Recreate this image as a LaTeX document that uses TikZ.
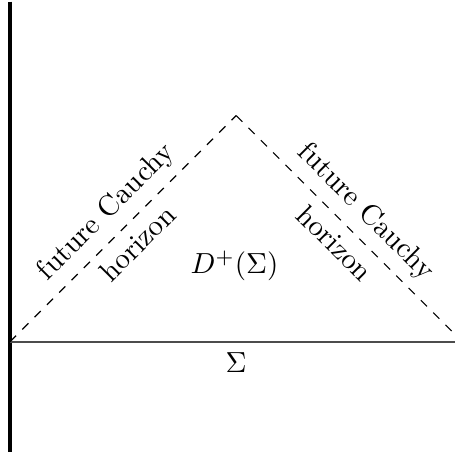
\documentclass[tikz,border=0pt]{standalone}
\usepackage{amsmath,amssymb}
\usetikzlibrary{positioning}
\tikzset{
  wallline/.style={line width=1.2pt},
  sliceline/.style={line width=0.5pt,color=black!70},
  horizonline/.style={dashed,line width=0.4pt},
  slopelabel/.style={sloped,pos=0.5,inner sep=3.3pt}
}
\begin{document}
\begin{tikzpicture}
  \clip (-0.121,-1.33) rectangle (5.39,4.14);
  \coordinate (origin) at (0,0);
  \coordinate (apex) at (2.74,2.74);
  \coordinate (farend) at (5.48,0);
  \coordinate (walltop) at (0,4.12);
  \coordinate (wallbottom) at (0,-1.33);
  \draw[wallline] (walltop) -- (wallbottom);
  \draw[sliceline] (origin) -- (farend) node[midway,below,text=black] (sigma) {$\Sigma$};
  \draw[horizonline] (origin) -- (apex)
    node[slopelabel,above] (leftouter) {future Cauchy}
    node[slopelabel,below] (leftinner) {horizon};
  \draw[horizonline] (apex) -- (farend)
    node[slopelabel,above] (rightouter) {future Cauchy}
    node[slopelabel,below] (rightinner) {horizon};
  \node (domain) at (2.72,0.92) {$D^+(\Sigma)$};
\end{tikzpicture}
\end{document}
